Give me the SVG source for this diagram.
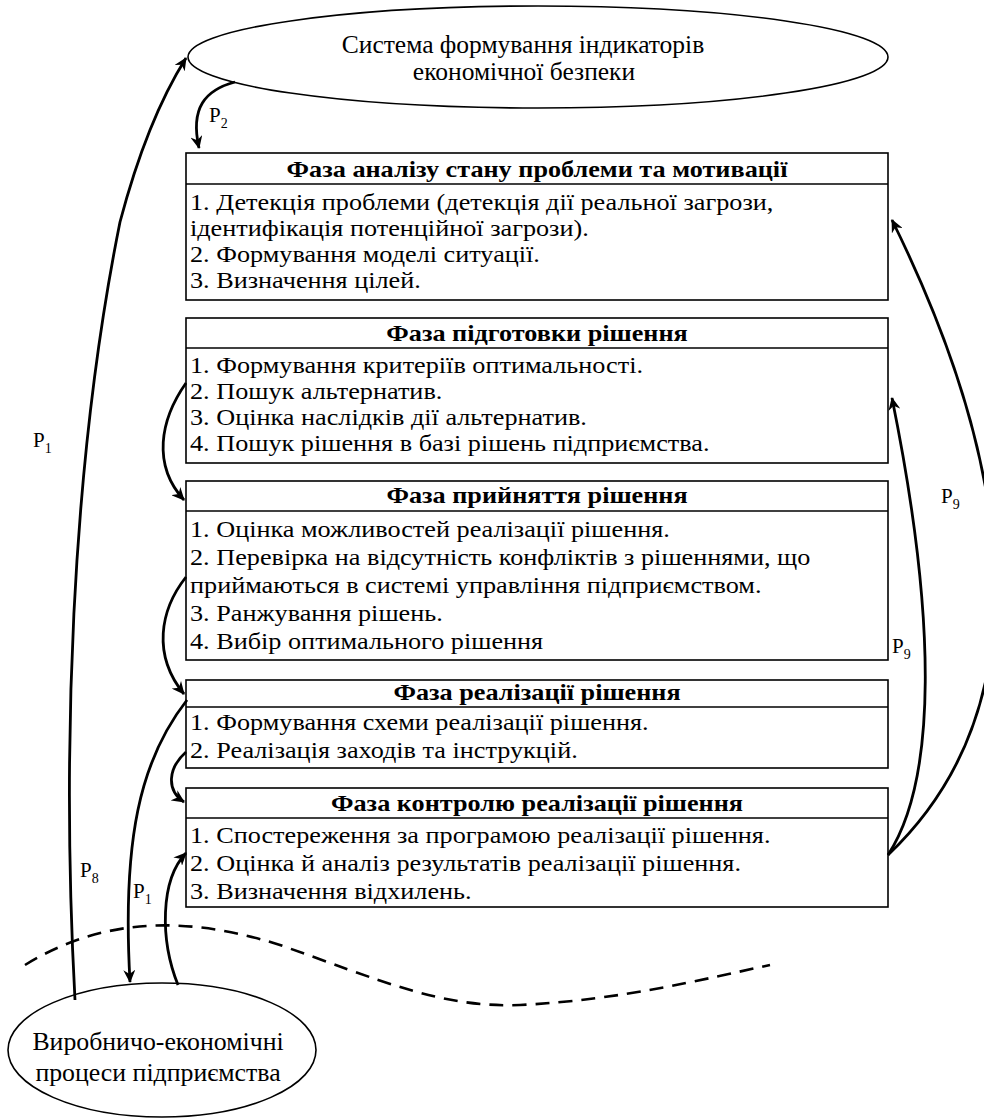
<svg xmlns="http://www.w3.org/2000/svg" width="984" height="1120" viewBox="0 0 984 1120">
<defs>
<style>
.c{text-anchor:middle}
.h{font-weight:bold;text-anchor:middle}
.box{fill:#fff;stroke:#000;stroke-width:1.6}
.sep{stroke:#000;stroke-width:1.4}
.ell{fill:#fff;stroke:#000;stroke-width:1.6}
.arr{fill:none;stroke:#000;stroke-width:2.8;marker-end:url(#ah)}
</style>
<marker id="ah" viewBox="0 0 13 12" refX="12" refY="6" markerWidth="13" markerHeight="12" markerUnits="userSpaceOnUse" orient="auto">
<path d="M0,0 L13,6 L0,12 L4,6 z" fill="#000"/>
</marker>
</defs>
<rect width="984" height="1120" fill="#fff"/>

<g id="top-ellipse">
<ellipse class="ell" cx="538" cy="57" rx="350" ry="51"/>
<text class="c" font-family="Liberation Serif" font-size="25.5" x="523" y="53">Система формування індикаторів</text>
<text class="c" font-family="Liberation Serif" font-size="25.5" x="524" y="80">економічної безпеки</text>
</g>

<g id="phase1">
<rect class="box" x="186" y="153" width="702" height="147"/>
<line class="sep" x1="186" y1="184" x2="888" y2="184"/>
<g transform="matrix(1.14 0 0 1 -26.6 0)">
<text class="h" font-family="Liberation Serif" font-size="23" x="494.4" y="177">Фаза аналізу стану проблеми та мотивації</text>
<text font-family="Liberation Serif" font-size="23" x="190" y="210">1. Детекція проблеми (детекція дії реальної загрози,</text>
<text font-family="Liberation Serif" font-size="23" x="190" y="236">ідентифікація потенційної загрози).</text>
<text font-family="Liberation Serif" font-size="23" x="190" y="262">2. Формування моделі ситуації.</text>
<text font-family="Liberation Serif" font-size="23" x="190" y="288">3. Визначення цілей.</text>
</g>
</g>

<g id="phase2">
<rect class="box" x="186" y="318" width="702" height="145"/>
<line class="sep" x1="186" y1="348" x2="888" y2="348"/>
<g transform="matrix(1.14 0 0 1 -26.6 0)">
<text class="h" font-family="Liberation Serif" font-size="23" x="494.4" y="341">Фаза підготовки рішення</text>
<text font-family="Liberation Serif" font-size="23" x="190" y="373">1. Формування критеріїв оптимальності.</text>
<text font-family="Liberation Serif" font-size="23" x="190" y="399">2. Пошук альтернатив.</text>
<text font-family="Liberation Serif" font-size="23" x="190" y="425">3. Оцінка наслідків дії альтернатив.</text>
<text font-family="Liberation Serif" font-size="23" x="190" y="451">4. Пошук рішення в базі рішень підприємства.</text>
</g>
</g>

<g id="phase3">
<rect class="box" x="186" y="481" width="702" height="179"/>
<line class="sep" x1="186" y1="511" x2="888" y2="511"/>
<g transform="matrix(1.14 0 0 1 -26.6 0)">
<text class="h" font-family="Liberation Serif" font-size="23" x="494.4" y="503">Фаза прийняття рішення</text>
<text font-family="Liberation Serif" font-size="23" x="190" y="537">1. Оцінка можливостей реалізації рішення.</text>
<text font-family="Liberation Serif" font-size="23" x="190" y="565">2. Перевірка на відсутність конфліктів з рішеннями, що</text>
<text font-family="Liberation Serif" font-size="23" x="190" y="593">приймаються в системі управління підприємством.</text>
<text font-family="Liberation Serif" font-size="23" x="190" y="621">3. Ранжування рішень.</text>
<text font-family="Liberation Serif" font-size="23" x="190" y="649">4. Вибір оптимального рішення</text>
</g>
</g>

<g id="phase4">
<rect class="box" x="186" y="680" width="702" height="88"/>
<line class="sep" x1="186" y1="707" x2="888" y2="707"/>
<g transform="matrix(1.14 0 0 1 -26.6 0)">
<text class="h" font-family="Liberation Serif" font-size="23" x="494.4" y="700">Фаза реалізації рішення</text>
<text font-family="Liberation Serif" font-size="23" x="190" y="730">1. Формування схеми реалізації рішення.</text>
<text font-family="Liberation Serif" font-size="23" x="190" y="758">2. Реалізація заходів та інструкцій.</text>
</g>
</g>

<g id="phase5">
<rect class="box" x="186" y="788" width="702" height="119"/>
<line class="sep" x1="186" y1="818" x2="888" y2="818"/>
<g transform="matrix(1.14 0 0 1 -26.6 0)">
<text class="h" font-family="Liberation Serif" font-size="23" x="494.4" y="811">Фаза контролю реалізації рішення</text>
<text font-family="Liberation Serif" font-size="23" x="190" y="843">1. Спостереження за програмою реалізації рішення.</text>
<text font-family="Liberation Serif" font-size="23" x="190" y="871">2. Оцінка й аналіз результатів реалізації рішення.</text>
<text font-family="Liberation Serif" font-size="23" x="190" y="899">3. Визначення відхилень.</text>
</g>
</g>

<g id="bottom-ellipse">
<ellipse class="ell" cx="162" cy="1050" rx="154" ry="67"/>
<text class="c" font-family="Liberation Serif" font-size="25.8" x="158" y="1050">Виробничо-економічні</text>
<text class="c" font-family="Liberation Serif" font-size="25.8" x="158" y="1081">процеси підприємства</text>
</g>

<g id="connectors">
<path class="arr" d="M235,82 C205,90 190,108 199,148"/>
<path class="arr" d="M75,1000 C62,760 70,470 120,222 Q147,120 186,58"/>
<path class="arr" d="M186,383 C160,420 152,465 184,500"/>
<path class="arr" d="M186,577 C160,610 152,655 184,694"/>
<path class="arr" d="M186,752 C168,768 166,790 184,802"/>
<path class="arr" d="M187,700 C140,760 122,840 130,982"/>
<path class="arr" d="M178,985 C160,940 160,880 186,853"/>
<path class="arr" d="M888,855 C937,780 937,620 892,398"/>
<path class="arr" d="M888,855 C1030,720 1030,500 892,220"/>
<path d="M25,965 C90,925 170,910 280,945 C380,980 440,1008 520,1005 C620,1000 700,980 770,965" fill="none" stroke="#000" stroke-width="2.6" stroke-dasharray="14,9"/>
</g>

<g id="labels">
<text font-family="Liberation Serif" font-size="21" x="209" y="122">P<tspan font-size="14" dy="6">2</tspan></text>
<text font-family="Liberation Serif" font-size="21" x="33" y="447">P<tspan font-size="14" dy="6">1</tspan></text>
<text font-family="Liberation Serif" font-size="21" x="80" y="877">P<tspan font-size="14" dy="6">8</tspan></text>
<text font-family="Liberation Serif" font-size="21" x="133" y="898">P<tspan font-size="14" dy="6">1</tspan></text>
<text font-family="Liberation Serif" font-size="21" x="892" y="653">P<tspan font-size="14" dy="6">9</tspan></text>
<text font-family="Liberation Serif" font-size="21" x="941" y="503">P<tspan font-size="14" dy="6">9</tspan></text>
</g>
</svg>
